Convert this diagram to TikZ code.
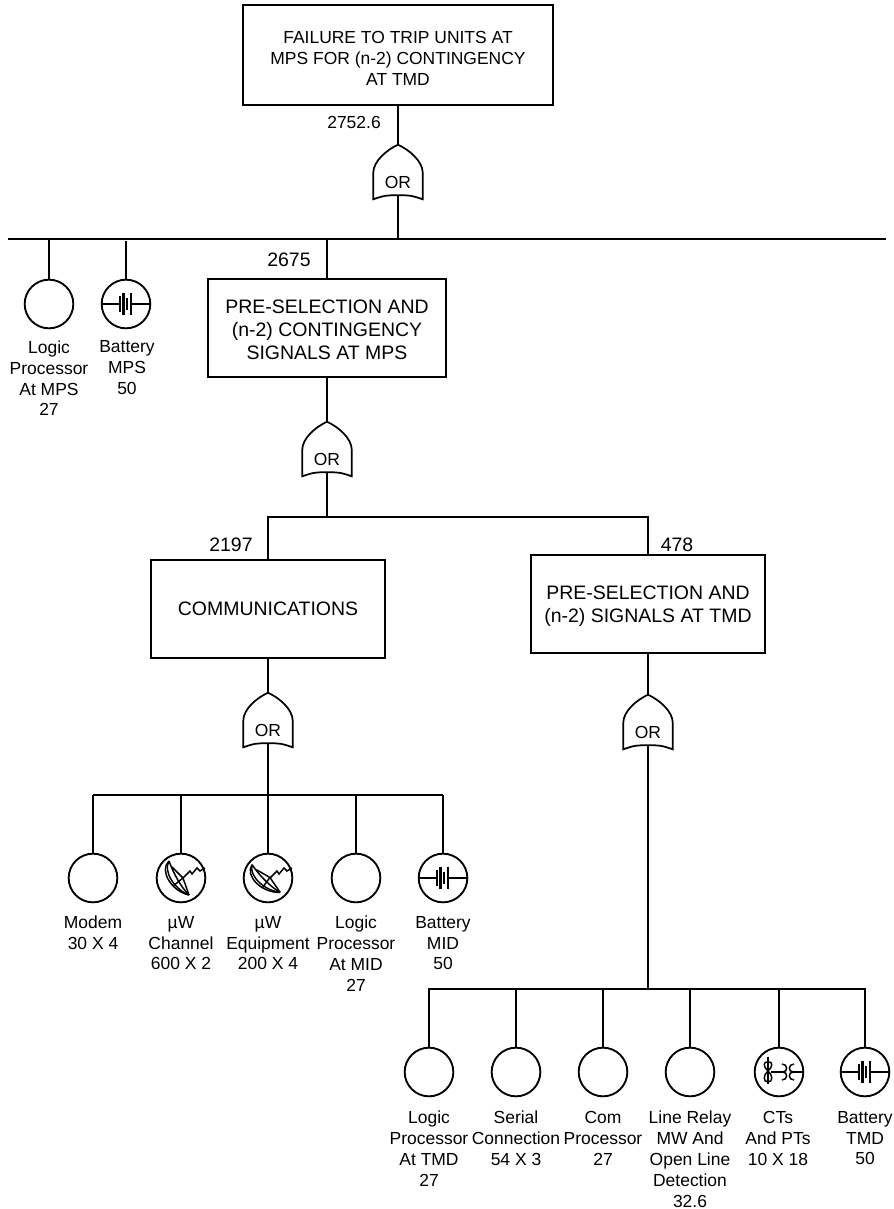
\documentclass[tikz,border=0pt]{standalone}
\usepackage{fontspec}
\setmainfont{Liberation Sans}
\tikzset{
  x=0.75pt,y=-0.75pt,
  ln/.style={line width=1.4pt,line join=miter},
  thickln/.style={line width=2.2pt},
  boxn/.style={draw,line width=1.4pt,inner sep=0pt,align=center,font=\fontsize{14.6}{17.3}\selectfont},
  topboxn/.style={boxn,font=\fontsize{13.1}{15.9}\selectfont},
  txt/.style={inner sep=0pt,align=center,font=\fontsize{13.1}{15.6}\selectfont},
  val/.style={inner sep=0pt,font=\fontsize{14.6}{17}\selectfont},
  valsm/.style={inner sep=0pt,font=\fontsize{13.1}{15}\selectfont},
  gtxt/.style={inner sep=0pt,font=\fontsize{13.1}{15}\selectfont},
  evt/.style={draw,circle,line width=1.4pt,minimum size=36.5pt,inner sep=0pt},
  gatebody/.style={inner sep=0pt,minimum width=36.75pt,minimum height=37.5pt},
}
\newcommand{\orgate}[3]{%
  \node[gatebody] (#1) at (#2,#3) {};
  \draw[line width=1.3pt] ([yshift=-3pt]#1.south west) .. controls +(9pt,3pt) and +(-9pt,0pt) .. (#1.south)
     .. controls +(9pt,0pt) and +(-9pt,3pt) .. ([yshift=-3pt]#1.south east)
     -- ([yshift=-2.25pt]#1.east) .. controls +(0pt,9pt) and +(8.25pt,-3.75pt) .. (#1.north)
     .. controls +(-8.25pt,-3.75pt) and +(0pt,9pt) .. ([yshift=-2.25pt]#1.west) -- cycle;
  \node[gtxt] (#1t) at ([yshift=-9pt]#1.center) {OR};
}
\newcommand{\battsym}[1]{%
  \begin{scope}[shift={(#1.center)}]
  \draw[ln] (#1.west) -- (-6,0);
  \draw[ln] (5,0) -- (#1.east);
  \draw[line width=1.2pt] (-6,-8) -- (-6,8);
  \draw[line width=1.8pt] (-2.5,-11) -- (-2.5,11);
  \draw[line width=1.2pt] (1,-6) -- (1,6);
  \draw[line width=1.4pt] (5,-11) -- (5,11);
  \end{scope}
}
\newcommand{\radarsym}[2]{%
  \begin{scope}[shift={(#1.center)},line width=1.1pt]
    \begin{scope}[rotate=#2]
    \draw (-12,-17) .. controls (-22,-8) and (-10,13) .. (8,17);
    \draw (-12,-17) .. controls (-18,-7) and (-7,11) .. (8,17);
    \draw (-12,-17) .. controls (-8,-6) and (-1,8) .. (8,17);
    \draw (-9,-11) -- (2,0) -- (8,17);
    \draw (-8,8) -- (2,0);
    \end{scope}
    \draw (2,0) -- (9,-7) -- (11,-4) -- (16,-10) -- (19,-7) -- (24,-10);
  \end{scope}
}
\newcommand{\xfmrsym}[1]{%
  \begin{scope}[shift={(#1.center)},line width=1.1pt]
    \draw (-11,-15.5) -- (-11,11.5);
    \draw (-11,-1) .. controls (-16,-5) and (-16,-11) .. (-11,-10);
    \draw (-11,-1) .. controls (-6,-5) and (-6,-11) .. (-11,-10);
    \draw (-11,-1) .. controls (-16,3) and (-16,10) .. (-11,10);
    \draw (-11,-1) .. controls (-6,3) and (-6,10) .. (-11,10);
    \draw (-8,0) -- (4,0);
    \draw (3,-8) .. controls (9,-8) and (9,0) .. (4,0) .. controls (9,0) and (9,8) .. (3,8);
    \draw (15,-8) .. controls (9,-8) and (9,0) .. (14,0) .. controls (9,0) and (9,8) .. (15,8);
    \draw (14,0) -- (25,0);
  \end{scope}
}
\begin{document}
\begin{tikzpicture}
\useasboundingbox (0,0) rectangle (893,1209);
% boxes
\node[topboxn,minimum width=232.5pt,minimum height=75pt] (top) at (398,55) {\rule{0pt}{14pt}FAILURE TO TRIP UNITS AT\\MPS FOR (n-2) CONTINGENCY\\AT TMD};
\node[boxn,minimum width=179pt,minimum height=73pt] (pre) at (327,328) {\rule{0pt}{13.5pt}PRE-SELECTION AND\\(n-2) CONTINGENCY\\SIGNALS AT MPS};
\node[boxn,minimum width=176pt,minimum height=73pt] (com) at (268,609) {COMMUNICATIONS};
\node[boxn,minimum width=176pt,minimum height=73pt] (tmd) at (648,604) {\rule{0pt}{13.5pt}PRE-SELECTION AND\\(n-2) SIGNALS AT TMD};
% gates
\orgate{g1}{398}{170}
\orgate{g2}{327}{447}
\orgate{g3}{268}{718}
\orgate{g4}{648}{720}
% values
\node[valsm,anchor=east] (v1) at (381,122) {2752.6};
\node[val] (v2) at (289,260) {2675};
\node[val] (v3) at (231,545) {2197};
\node[val] (v4) at (677,545) {478};
% buses
\coordinate (b1l) at (8,239);
\coordinate (b1r) at (886,239);
\coordinate (b1g) at (398,239);
\coordinate (b1p) at (327,239);
\coordinate (b1a) at (49,239);
\coordinate (b1b) at (126,241);
\draw[ln] (b1l) -- (b1r);
\coordinate (b2l) at (268,517);
\coordinate (b2r) at (648,517);
\coordinate (b2g) at (327,517);
\draw[thickln,line cap=rect] (b2l) -- (b2r);
\coordinate (b3l) at (93,795);
\coordinate (b3r) at (443,795);
\coordinate (b3g) at (268,795);
\draw[ln] (b3l) -- (b3r);
\coordinate (b4l) at (429,989);
\coordinate (b4r) at (865,989);
\coordinate (b4g) at (648,989);
\draw[ln,line cap=rect] (b4l) -- (b4r);
% events
\node[evt] (e1) at (49,304) {};
\node[evt] (e2) at (126,304) {};
\node[evt] (c1) at (93,878) {};
\node[evt] (c2) at (181,878) {};
\node[evt] (c3) at (268,878) {};
\node[evt] (c4) at (356,878) {};
\node[evt] (c5) at (443,878) {};
\node[evt] (d1) at (429,1072) {};
\node[evt] (d2) at (516,1072) {};
\node[evt] (d3) at (603,1072) {};
\node[evt] (d4) at (690,1072) {};
\node[evt] (d5) at (779,1072) {};
\node[evt] (d6) at (865,1072) {};
\battsym{e2}
\battsym{c5}
\battsym{d6}
\radarsym{c2}{0}
\radarsym{c3}{15}
\xfmrsym{d5}
% connectors
\draw[ln] (top.south) -- (g1.north);
\draw[ln] (g1.south) -- (b1g);
\draw[ln] (b1a) -- (e1.north);
\draw[line width=2.2pt] (b1b) -- (e2.north);
\draw[ln] (b1p) -- (pre.north);
\draw[ln] (pre.south) -- (g2.north);
\draw[ln] (g2.south) -- (b2g);
\draw[ln] (b2l) -- (com.north);
\draw[ln] (b2r) -- (tmd.north);
\draw[ln] (com.south) -- (g3.north);
\draw[ln] (g3.south) -- (b3g);
\draw[ln] (tmd.south) -- (g4.north);
\draw[ln] (g4.south) -- (b4g);
\foreach \n in {c1,c2,c3,c4,c5}{
  \draw[ln] (\n.north |- b3g) -- (\n.north);
}
\foreach \n in {d1,d2,d3,d4,d5,d6}{
  \draw[ln] (\n.north |- b4g) -- (\n.north);
}
% labels
\node[txt,anchor=north] (le1) at (49,340.5) {Logic\\Processor\\At MPS\\27};
\node[txt,anchor=north] (le2) at (127,340.5) {Battery\\MPS\\50};
\node[txt,anchor=north] (lc1) at (93,916) {Modem\\30 X 4};
\node[txt,anchor=north] (lc2) at (181,916) {µW\\Channel\\600 X 2};
\node[txt,anchor=north] (lc3) at (268,916) {µW\\Equipment\\200 X 4};
\node[txt,anchor=north] (lc4) at (356,916) {Logic\\Processor\\At MID\\27};
\node[txt,anchor=north] (lc5) at (443,916) {Battery\\MID\\50};
\node[txt,anchor=north] (ld1) at (429,1111) {Logic\\Processor\\At TMD\\27};
\node[txt,anchor=north] (ld2) at (516,1111) {Serial\\Connection\\54 X 3};
\node[txt,anchor=north] (ld3) at (603,1111) {Com\\Processor\\27};
\node[txt,anchor=north] (ld4) at (690,1111) {Line Relay\\MW And\\Open Line\\Detection\\32.6};
\node[txt,anchor=north] (ld5) at (778,1111) {CTs\\And PTs\\10 X 18};
\node[txt,anchor=north] (ld6) at (865,1111) {Battery\\TMD\\50};
\end{tikzpicture}
\end{document}
